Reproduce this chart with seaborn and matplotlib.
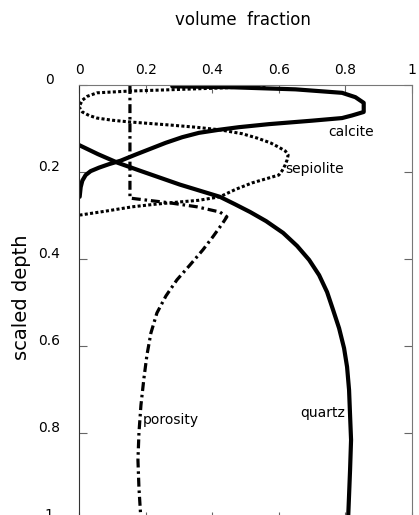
import numpy as np
import pandas as pd
import matplotlib
matplotlib.use("Agg")
import matplotlib.pyplot as plt
import matplotlib.transforms as mtransforms
import seaborn as sns

# ---- data (volume fraction vs scaled depth) ----
calcite_x = [0.28, 0.45, 0.65, 0.79, 0.83, 0.855, 0.855, 0.82, 0.79, 0.70, 0.57, 0.48, 0.42,
             0.36, 0.31, 0.26, 0.22, 0.17, 0.125, 0.09, 0.06, 0.035, 0.02, 0.01, 0.005, 0.002]
calcite_y = [0.003, 0.005, 0.010, 0.018, 0.028, 0.041, 0.062, 0.070, 0.076, 0.082, 0.090, 0.097,
             0.103, 0.110, 0.120, 0.133, 0.145, 0.160, 0.174, 0.182, 0.190, 0.198, 0.207, 0.220,
             0.235, 0.257]

quartz_x = [0.0, 0.057, 0.117, 0.183, 0.243, 0.303, 0.363, 0.423, 0.468, 0.514, 0.562, 0.613,
            0.655, 0.691, 0.721, 0.745, 0.763, 0.781, 0.796, 0.805, 0.811, 0.814, 0.817, 0.814,
            0.811, 0.808]
quartz_y = [0.138, 0.159, 0.179, 0.197, 0.213, 0.229, 0.243, 0.257, 0.274, 0.292, 0.313, 0.340,
            0.370, 0.402, 0.437, 0.476, 0.517, 0.559, 0.605, 0.648, 0.701, 0.759, 0.816, 0.885,
            0.943, 1.0]

sepiolite_x = [0.56, 0.42, 0.27, 0.15, 0.054, 0.025, 0.01, 0.0, 0.01, 0.03, 0.054, 0.10, 0.153,
               0.273, 0.35, 0.423, 0.49, 0.535, 0.575, 0.60, 0.62, 0.628, 0.625, 0.619, 0.61,
               0.60, 0.56, 0.52, 0.47, 0.423, 0.36, 0.30, 0.23, 0.16, 0.08, 0.003]
sepiolite_y = [0.003, 0.007, 0.011, 0.014, 0.018, 0.026, 0.035, 0.050, 0.062, 0.070, 0.076, 0.081,
               0.085, 0.092, 0.097, 0.103, 0.112, 0.122, 0.133, 0.143, 0.152, 0.161, 0.172, 0.184,
               0.197, 0.207, 0.216, 0.225, 0.240, 0.257, 0.265, 0.269, 0.274, 0.280, 0.290, 0.299]

porosity_x = [0.153, 0.153, 0.174, 0.273, 0.354, 0.423, 0.444, 0.432, 0.402, 0.372, 0.333, 0.294,
              0.261, 0.234, 0.216, 0.204, 0.195, 0.186, 0.180, 0.177, 0.180, 0.186]
porosity_y = [0.0, 0.26, 0.262, 0.271, 0.28, 0.292, 0.303, 0.317, 0.349, 0.379, 0.414, 0.448,
              0.485, 0.524, 0.570, 0.621, 0.674, 0.736, 0.800, 0.862, 0.926, 1.0]

tick_values = [0, 0.2, 0.4, 0.6, 0.8, 1.0]
tick_labels = ["0", "0.2", "0.4", "0.6", "0.8", "1"]

label_text = {"calcite": (0.748, 0.108, "left"),
              "sepiolite": (0.62, 0.193, "left"),
              "porosity": (0.192, 0.77, "left"),
              "quartz": (0.80, 0.754, "right")}

# ---- figure ----
sns.set_style("white")
plt.rcParams["font.family"] = ["DejaVu Sans"]
plt.rcParams["text.color"] = "black"
plt.rcParams["axes.labelcolor"] = "black"

fig = plt.figure(figsize=(4.19, 5.15), dpi=100)
ax = fig.add_axes([79 / 419, 1 - 520 / 515, 333 / 419, 435 / 515])

def draw(xs, ys, **kw):
    df = pd.DataFrame({"x": xs, "y": ys})
    sns.lineplot(data=df, x="x", y="y", sort=False, estimator=None, color="black", ax=ax, **kw)

draw(calcite_x, calcite_y, linewidth=3.0, solid_joinstyle="round")
draw(quartz_x, quartz_y, linewidth=3.0, solid_joinstyle="round")
draw(sepiolite_x, sepiolite_y, linewidth=2.2, linestyle=(0, (1.0, 0.75)))
draw(porosity_x, porosity_y, linewidth=2.3, linestyle=(0, (2.8, 1.2, 0.8, 1.2)))

for name, (tx, ty, ha) in label_text.items():
    ax.text(tx, ty, name, ha=ha, va="center", fontsize=10, color="black")

ax.set_xlim(0, 1)
ax.set_ylim(1, 0)

ax.xaxis.tick_top()
ax.set_xticks(tick_values)
ax.set_xticklabels(tick_labels)
ax.set_yticks(tick_values)
ax.set_yticklabels(tick_labels, ha="center")

ax.tick_params(axis="x", which="both", direction="in", length=6, width=0.8, color="#666",
               labelcolor="black", top=True, bottom=True, labeltop=True, labelbottom=False,
               labelsize=10, pad=6)
ax.tick_params(axis="y", which="both", direction="in", length=6, width=0.8, color="#666",
               labelcolor="black", left=True, right=True, labelleft=True, labelright=False,
               labelsize=10, pad=21.6)

offset = mtransforms.ScaledTranslation(0, 4.5 / 72, fig.dpi_scale_trans)
for lab in ax.get_yticklabels():
    lab.set_transform(lab.get_transform() + offset)

for side, sp in ax.spines.items():
    sp.set_visible(True)
    sp.set_color("#777")
    sp.set_linewidth(0.8)
ax.spines["left"].set_color("#333")

ax.xaxis.set_label_position("top")
ax.set_xlabel("volume  fraction", fontsize=12, va="center", ha="center")
ax.xaxis.set_label_coords((243 - 79) / 333, (520 - 20) / 435)
ax.set_ylabel("scaled depth", fontsize=14, va="center", ha="center")
ax.yaxis.set_label_coords((21 - 79) / 333, (520 - 297) / 435)

fig.savefig("out.png", dpi=100)
